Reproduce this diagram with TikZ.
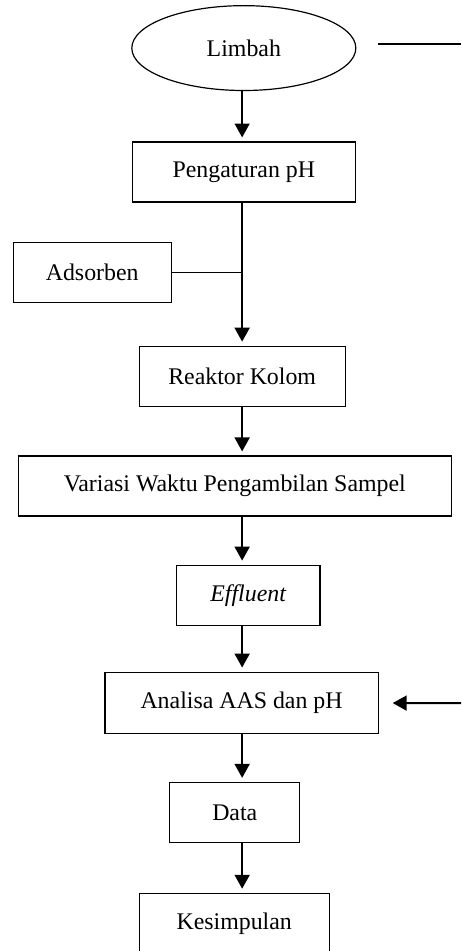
\documentclass[tikz,border=0pt]{standalone}
\usepackage{fontspec}
\setmainfont{Liberation Serif}
\usetikzlibrary{arrows.meta,shapes.geometric}

\begin{document}
\begin{tikzpicture}[
    font = \fontsize{12pt}{14pt}\selectfont,
    box/.style = {draw, line width = 0.6pt, minimum height = 1.06cm, inner sep = 0pt},
    flow/.style = {-{Triangle[width = 7.5pt, length = 7pt]}, line width = 1pt, shorten > = 2pt}
  ]
    \useasboundingbox (0, 0) rectangle (8.15, -16.81);
    \coordinate (axis) at (4.28, 0);
    \node[ellipse, draw, line width = 0.6pt, minimum width = 3.96cm, minimum height = 1.5cm, inner sep = 0pt] (limbah) at (4.31, -0.85) {Limbah};
    \coordinate (limbah out) at (6.68, -0.78);
    \coordinate (limbah end) at (8.15, -0.78);
    \draw[line width = 0.8pt] (limbah out) -- (limbah end);
    \node[box, minimum width = 3.94cm] (pengaturan ph) at (4.31, -3.04) {Pengaturan pH};
    \draw[flow] (limbah.south -| axis) -- (pengaturan ph.north -| axis);
    \node[box, minimum width = 2.79cm] (adsorben) at (1.63, -4.81) {Adsorben};
    \node[box, minimum width = 3.64cm] (reaktor kolom) at (4.28, -6.65) {Reaktor Kolom};
    \draw[flow] (pengaturan ph.south -| axis) -- (reaktor kolom.north -| axis);
    \draw[line width = 0.6pt] (adsorben) -- (adsorben -| axis);
    \node[box, minimum width = 7.66cm] (variasi waktu) at (4.15, -8.59) {Variasi Waktu Pengambilan Sampel};
    \draw[flow] (reaktor kolom.south -| axis) -- (variasi waktu.north -| axis);
    \node[box, minimum width = 2.53cm] (effluent) at (4.39, -10.52) {\textit{Effluent}};
    \draw[flow] (variasi waktu.south -| axis) -- (effluent.north -| axis);
    \node[box, minimum width = 4.83cm, minimum height = 1.08cm] (analisa) at (4.27, -12.42) {Analisa AAS dan pH};
    \draw[flow] (effluent.south -| axis) -- (analisa.north -| axis);
    \coordinate (analisa in) at (8.15, -12.43);
    \draw[flow, shorten > = 7pt] (analisa in) -- (analisa);
    \node[box, minimum width = 2.30cm] (data) at (4.15, -14.36) {Data};
    \draw[flow] (analisa.south -| axis) -- (data.north -| axis);
    \node[box, minimum width = 3.36cm] (kesimpulan) at (4.14, -16.32) {Kesimpulan};
    \draw[flow] (data.south -| axis) -- (kesimpulan.north -| axis);
  \end{tikzpicture}
\end{document}
